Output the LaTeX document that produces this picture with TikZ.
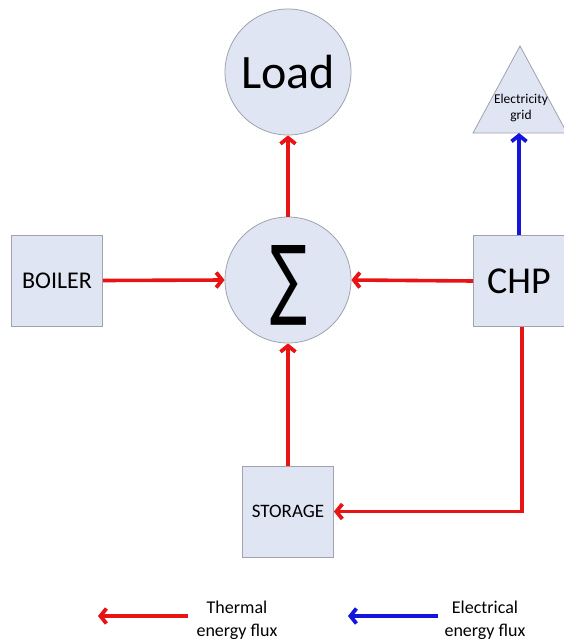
\documentclass[tikz,border=0pt]{standalone}
\usepackage{fontspec}
\setmainfont{Carlito}
\newfontfamily\dvsans{DejaVu Sans}
\usetikzlibrary{arrows.meta,shapes.geometric}
\definecolor{boxfill}{RGB}{223,229,242}
\definecolor{boxline}{RGB}{160,162,172}
\definecolor{thermal}{RGB}{232,20,20}
\definecolor{elec}{RGB}{20,20,220}
\begin{document}
\begin{tikzpicture}[x=1pt,y=-1pt,
  blk/.style={draw=boxline,fill=boxfill,line width=0.8pt,minimum width=91pt,minimum height=91pt,inner sep=0pt},
  circ/.style={circle,draw=boxline,fill=boxfill,line width=0.8pt,minimum size=126pt,inner sep=0pt},
  tip/.style={-{Straight Barb[length=6pt,width=15pt,line width=3.8pt]}},
  therm/.style={draw=thermal,line width=3.6pt,tip},
  elect/.style={draw=elec,line width=3.6pt,tip},
  lgdt/.style={align=center,font=\fontsize{18}{23}\selectfont,inner sep=0pt}]
\useasboundingbox (0,0) rectangle (564,642);
\begin{scope}
\clip (0,0) rectangle (564,642);
\node[circ] (load) at (288,72) {\fontsize{48}{52}\selectfont Load};
\node[circ] (sum) at (288,280) {};
\node[inner sep=0pt] (sumsym) at (288.5,285.5) {\resizebox{37pt}{63pt}{\dvsans ∑}};
\node[blk] (boiler) at (57,280.5) {\fontsize{24}{28}\selectfont BOILER};
\node[blk] (chp) at (519,281) {\fontsize{38}{42}\selectfont CHP};
\node[blk] (storage) at (288,511.5) {\fontsize{19}{22}\selectfont STORAGE};
\draw[draw=boxline,fill=boxfill,line width=0.8pt] (520,46) -- (567,133) -- (473,133) -- cycle;
\coordinate (gridb) at (519,133);
\node[align=center,font=\fontsize{13.5}{16}\selectfont,inner sep=0pt] (grid) at (521,108) {Electricity\\grid};
\end{scope}
\draw[therm] (boiler.east) -- (sum.west);
\draw[therm] (chp.west) -- (sum.east);
\draw[therm] (sum.north) -- (load.south);
\draw[therm] (storage.north) -- (sum.south);
\draw[therm] ([xshift=3pt]chp.south) |- (storage.east);
\draw[elect] (chp.north) -- (chp.north |- gridb);
% legend
\coordinate (rt) at (188,616);
\coordinate (rh) at (98,616);
\coordinate (bt) at (438,616);
\coordinate (bh) at (348,616);
\draw[therm] (rt) -- (rh);
\draw[elect] (bt) -- (bh);
\node[lgdt] (lt) at (237,620) {Thermal\\energy flux};
\node[lgdt] (le) at (485,620) {Electrical\\energy flux};
\end{tikzpicture}
\end{document}
